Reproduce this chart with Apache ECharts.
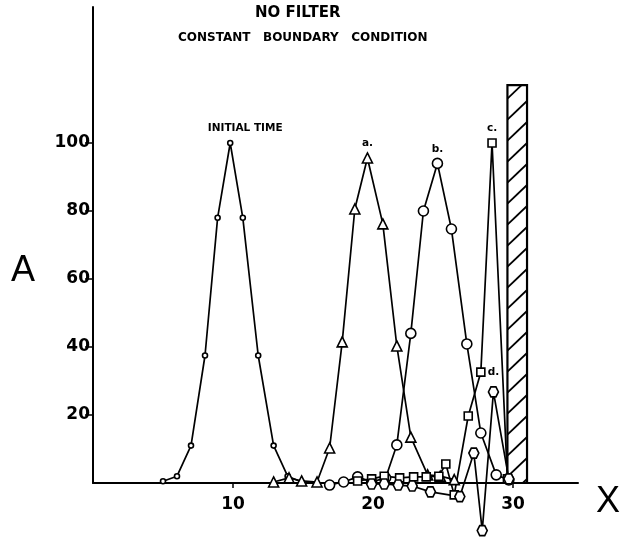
<!DOCTYPE html>
<html><head><meta charset="utf-8">
<script src="https://cdn.jsdelivr.net/npm/echarts@6/dist/echarts.min.js"></script>
<style>html,body{margin:0;padding:0;background:#fff}#c{width:622px;height:539px}</style>
</head><body><div id="c"></div>
<script>
// ---- data ----
const initX = [5.0, 6.0, 7.0, 8.0, 8.9, 9.8, 10.7, 11.8, 12.9, 13.9, 14.9];
const initY = [0.5, 2, 11, 37.5, 78, 100, 78, 37.5, 11, 2, 0.3];
const aX = [12.9, 14.0, 14.9, 16.0, 16.9, 17.8, 18.7, 19.6, 20.7, 21.7, 22.7, 23.9, 24.8, 25.8];
const aY = [0.3, 1.5, 0.6, 0.3, 10.3, 41.5, 80.6, 95.6, 76.2, 40.3, 13.5, 2.4, 2, 1];
const bX = [16.9, 17.9, 18.9, 19.9, 20.9, 21.7, 22.7, 23.6, 24.6, 25.6, 26.7, 27.7, 28.8, 29.7];
const bY = [-0.6, 0.3, 1.8, 0.3, 1.5, 11.2, 44, 80, 94, 74.7, 40.9, 14.7, 2.4, 0.9];
const cX = [18.9, 19.9, 20.8, 21.9, 22.9, 23.8, 24.7, 25.2, 25.8, 26.8, 27.7, 28.5, 29.6];
const cY = [0.6, 1.2, 2, 1.5, 1.8, 1.8, 2, 5.6, -3.5, 19.7, 32.6, 100, 1.2];
const dX = [19.9, 20.8, 21.8, 22.8, 24.1, 26.2, 27.2, 27.8, 28.6, 29.7];
const dY = [-0.3, -0.3, -0.6, -0.9, -2.6, -4, 8.8, -14, 26.8, 1.2];
const boundary = [29.6, 31.0, 117];   // hatched wall: x from, x to, height
const xTicks = [10, 20, 30];
const yTicks = [20, 40, 60, 80, 100];
const titleText = 'NO FILTER';
const subText = 'CONSTANT   BOUNDARY   CONDITION';
const peakLabels = ['INITIAL TIME', 'a.', 'b.', 'c.', 'd.'];

const hexPath = 'path://M2.5,0 L7.5,0 L10,5 L7.5,10 L2.5,10 L0,5 Z';
const annFont = {fontFamily: 'DejaVu Sans', fontWeight: 'bold', fontSize: 10.5, color: '#000'};

function mk(xs, ys, label, symbol, size, labelOpt) {
  let peak = 0;
  ys.forEach((v, i) => { if (v > ys[peak]) peak = i; });
  const data = xs.map((x, i) => {
    const item = {value: [x, ys[i]]};
    if (i === peak) item.label = Object.assign({show: true, position: 'top', formatter: label}, annFont, labelOpt || {});
    return item;
  });
  return {
    type: 'line', data, symbol, symbolSize: size, showAllSymbol: true,
    clip: false, silent: true, animation: false,
    lineStyle: {color: '#000', width: 1.7},
    itemStyle: {color: '#fff', borderColor: '#000', borderWidth: 1.6},
    emphasis: {disabled: true}
  };
}

const chart = echarts.init(document.getElementById('c'), null, {renderer: 'canvas'});
const axisFont = {fontFamily: 'DejaVu Sans', fontWeight: 'bold', fontSize: 17, color: '#000'};
chart.setOption({
  animation: false,
  backgroundColor: '#fff',
  grid: {left: 93, right: 44, top: 7, bottom: 56},
  xAxis: {
    type: 'value', min: 0, max: 34.64, interval: 10,
    splitLine: {show: false},
    axisLine: {lineStyle: {color: '#000', width: 2}},
    axisTick: {show: true, length: 5, customValues: xTicks, lineStyle: {color: '#000', width: 1.5}},
    axisLabel: Object.assign({customValues: xTicks, margin: 13}, axisFont)
  },
  yAxis: {
    type: 'value', min: 0, max: 140, interval: 20,
    splitLine: {show: false},
    axisLine: {show: true, lineStyle: {color: '#000', width: 2}},
    axisTick: {show: true, length: 8, customValues: yTicks, lineStyle: {color: '#000', width: 1.5}},
    axisLabel: Object.assign({customValues: yTicks, margin: 3}, axisFont)
  },
  graphic: [
    {type: 'text', left: 255, top: 6, style: {text: titleText, font: 'bold 15px "DejaVu Sans"', fill: '#000'}},
    {type: 'text', left: 178, top: 32, style: {text: subText, font: 'bold 12px "DejaVu Sans"', fill: '#000'}},
    {type: 'text', left: 11, top: 253, style: {text: 'A', font: '36px "Liberation Sans"', fill: '#000'}},
    {type: 'text', left: 596, top: 484, style: {text: 'X', font: '36px "Liberation Sans"', fill: '#000'}}
  ],
  series: [
    mk(initX, initY, peakLabels[0], 'circle', 5, {offset: [15, -1]}),
    mk(aX, aY, peakLabels[1], 'triangle', 10, {distance: 3}),
    mk(bX, bY, peakLabels[2], 'circle', 10, {distance: 3}),
    mk(cX, cY, peakLabels[3], 'rect', 8, {distance: 4}),
    mk(dX, dY, peakLabels[4], hexPath, 10, {distance: 8}),
    {
      type: 'custom', silent: true, animation: false, clip: false,
      data: [boundary],
      renderItem: function (params, api) {
        const p0 = api.coord([api.value(0), 0]);
        const p1 = api.coord([api.value(1), api.value(2)]);
        const x0 = p0[0], x1 = p1[0], yb = p0[1], yt = p1[1];
        const w = x1 - x0, dy = w * 0.95, step = 21;
        const children = [{
          type: 'rect', shape: {x: x0, y: yt, width: w, height: yb - yt},
          style: {fill: '#fff', stroke: '#000', lineWidth: 2.2}
        }];
        for (let ys = yb + dy - 4; ys > yt; ys -= step) {
          let t0 = 0, t1 = 1;
          if (ys > yb) t0 = (ys - yb) / dy;
          if (ys - dy < yt) t1 = (ys - yt) / dy;
          if (t1 <= t0) continue;
          children.push({
            type: 'line',
            shape: {x1: x0 + w * t0, y1: ys - dy * t0, x2: x0 + w * t1, y2: ys - dy * t1},
            style: {stroke: '#000', lineWidth: 1.8}
          });
        }
        return {type: 'group', children};
      }
    }
  ]
});
</script>
</body></html>
